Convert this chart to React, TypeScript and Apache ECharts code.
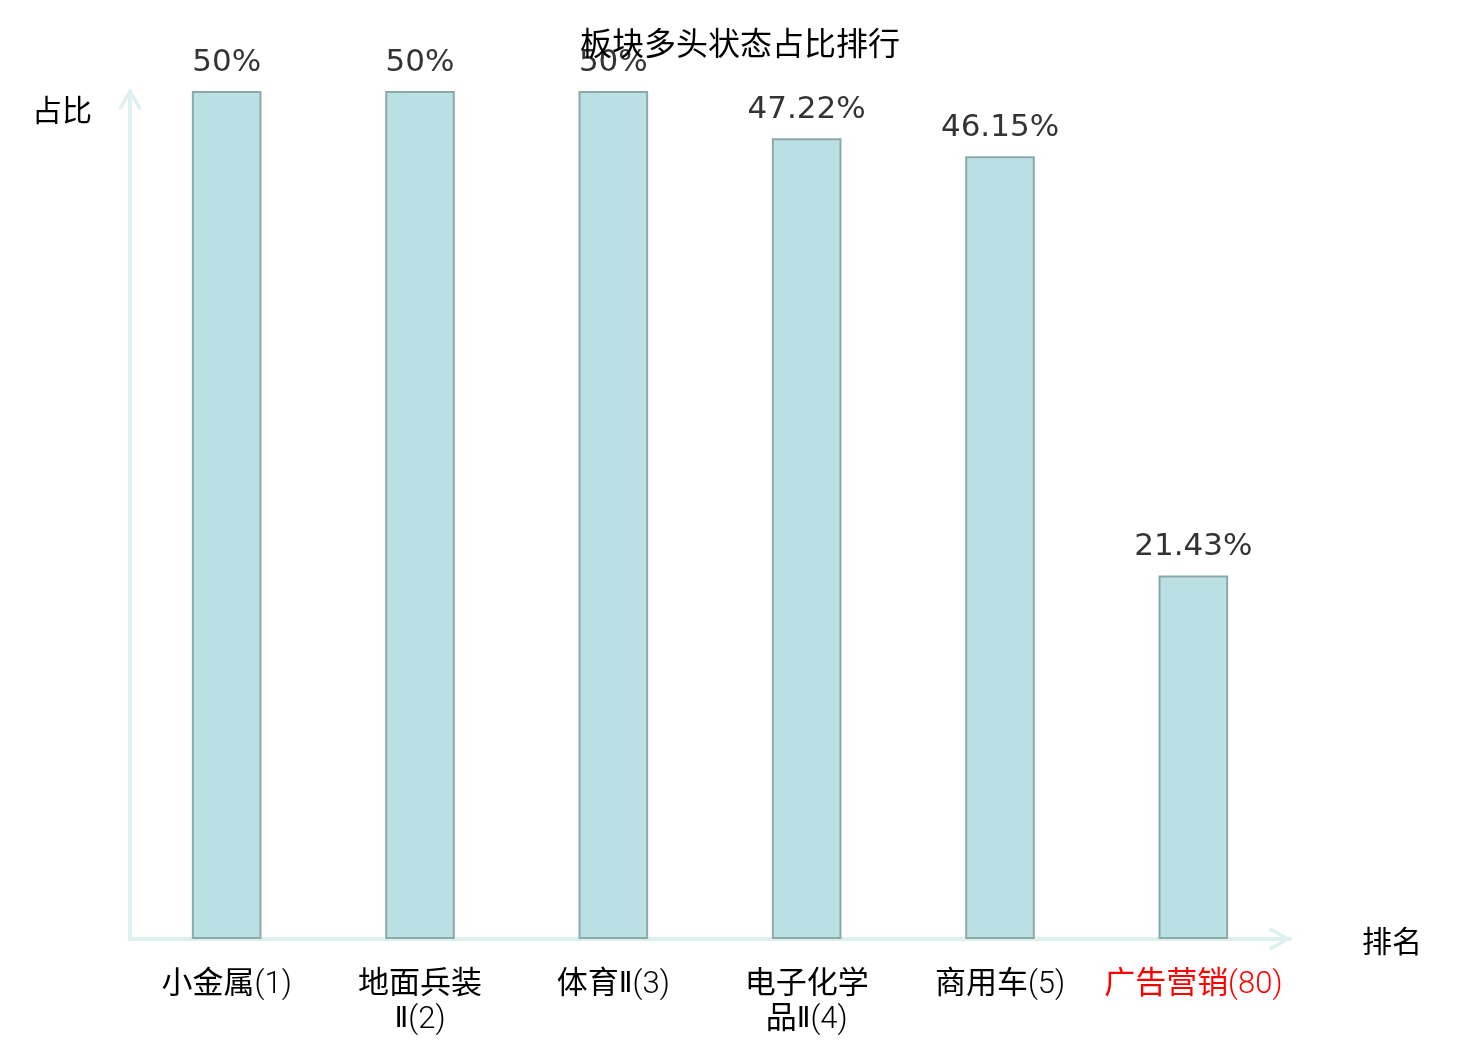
import React, { useEffect, useRef } from "react";
import * as echarts from "echarts";

const titleText = "板块多头状态占比排行";
const sectorNames = ["小金属", "地面兵装Ⅱ", "体育Ⅱ", "电子化学品Ⅱ", "商用车", "广告营销"];
const sectorRanks = [1, 2, 3, 4, 5, 80];
const ratioValues = [50, 50, 50, 47.22, 46.15, 21.43];
const highlightRank = 80;

const arrowPath = "path://M12,0 L24,21 L20.8,22.6 L12,6.5 L3.2,22.6 L0,21 Z";

const cjkFont = "Roboto, 'Noto Sans CJK SC', sans-serif";
const latinFont = "Roboto, 'Noto Sans CJK SC', sans-serif";
const romanFont = "'DejaVu Sans', 'Noto Sans CJK SC', sans-serif";

function tokenClass(ch: string): string {
  if (/[\u4e00-\u9fff]/.test(ch)) return "c";
  if (/[\u2160-\u2188]/.test(ch)) return "r";
  return "n";
}

function richLabel(text: string, red: boolean): string {
  let out = "";
  let cur = "";
  let curCls = "";
  const suffix = red ? "R" : "";
  const flush = () => {
    if (cur) out += `{${curCls}${suffix}|${cur}}`;
    cur = "";
  };
  for (const ch of Array.from(text)) {
    if (ch === "\n") {
      flush();
      out += "\n";
      curCls = "";
      continue;
    }
    const cls = tokenClass(ch);
    if (cls !== curCls) {
      flush();
      curCls = cls;
    }
    cur += ch;
  }
  flush();
  return out;
}

export default function App() {
  const ref = useRef<HTMLDivElement>(null);
  useEffect(() => {
    if (!ref.current) return;
    const chart = echarts.init(ref.current, null, { renderer: "svg" });
    const categories = sectorNames.map((n, i) => `${n}(${sectorRanks[i]})`);
    const mk = (color: string) => ({
      c: { color, fontSize: 31, lineHeight: 35, fontFamily: cjkFont, fontWeight: "normal" },
      r: { color, fontSize: 28, lineHeight: 35, fontFamily: romanFont, fontWeight: "normal" },
      n: { color, fontSize: 31, lineHeight: 35, fontFamily: latinFont, fontWeight: 300 },
    });
    const black = mk("#000");
    const red = mk("#ff0000");
    chart.setOption({
      animation: false,
      title: {
        text: titleText,
        left: "center",
        top: 20,
        textStyle: { color: "#000", fontSize: 32, fontWeight: "normal", fontFamily: "Noto Sans CJK SC" },
        z: 10,
      },
      grid: { left: 130, right: 190, top: 91, bottom: 101, containLabel: false },
      xAxis: {
        type: "category",
        data: categories,
        name: "排名",
        nameLocation: "end",
        nameGap: 72,
        nameTextStyle: { color: "#000", fontSize: 30, fontFamily: "Noto Sans CJK SC", padding: [8, 0, 0, 0] },
        axisLine: {
          show: true,
          symbol: ["none", arrowPath],
          symbolSize: [24, 22],
          symbolOffset: [0, -10],
          lineStyle: { color: "#dcf1ef", width: 4 },
        },
        axisTick: { show: false },
        axisLabel: {
          margin: 26,
          fontSize: 31,
          lineHeight: 35,
          interval: 0,
          color: (_v: string, idx: number) => (sectorRanks[idx] === highlightRank ? "#ff0000" : "#000"),
          formatter: (_v: string, idx: number) => {
            const n = sectorNames[idx];
            let full = `${n}(${sectorRanks[idx]})`;
            if (n.length > 4) full = full.slice(0, 4) + "\n" + full.slice(4);
            return richLabel(full, sectorRanks[idx] === highlightRank);
          },
          rich: {
            c: black.c,
            r: black.r,
            n: black.n,
            cR: red.c,
            rR: red.r,
            nR: red.n,
          },
        },
        splitLine: { show: false },
      },
      yAxis: {
        type: "value",
        min: 0,
        max: 50,
        name: "占比",
        nameLocation: "end",
        nameGap: -32,
        nameTextStyle: { color: "#000", fontSize: 30, fontFamily: "Noto Sans CJK SC", align: "right", padding: [0, 38, 0, 0] },
        axisLine: {
          show: true,
          symbol: ["none", arrowPath],
          symbolSize: [24, 22],
          symbolOffset: [0, -8],
          lineStyle: { color: "#dcf1ef", width: 4 },
        },
        axisTick: { show: false },
        axisLabel: { show: false },
        splitLine: { show: false },
      },
      series: [
        {
          type: "bar",
          data: ratioValues,
          barWidth: "36%",
          itemStyle: { color: "#bbe0e3", borderColor: "#8ca9aa", borderWidth: 2 },
          label: {
            show: true,
            position: "top",
            distance: 16,
            color: "#333",
            fontSize: 31,
            fontFamily: "DejaVu Sans",
            formatter: (p: any) => `${p.value}%`,
          },
        },
      ],
    });
    return () => chart.dispose();
  }, []);
  return <div ref={ref} style={{ position: "fixed", left: 0, top: 0, width: 1480, height: 1040 }} />;
}
